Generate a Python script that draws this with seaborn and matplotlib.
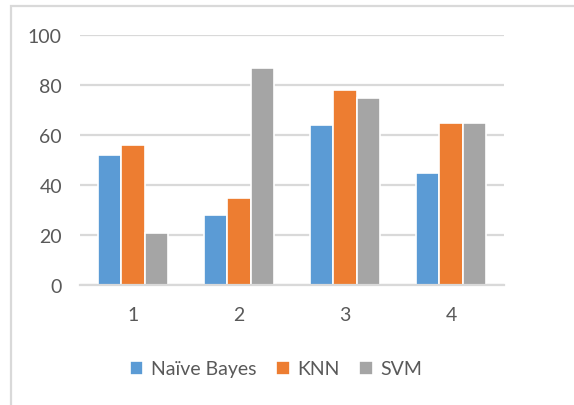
import matplotlib
matplotlib.use("Agg")
import matplotlib.pyplot as plt
from matplotlib.patches import Rectangle
import pandas as pd
import seaborn as sns

# Accuracy of three classifiers over four experiments
groups = ["1", "2", "3", "4"]
naive_bayes = [52, 28, 64, 45]
knn = [56, 35, 78, 65]
svm = [21, 87, 75, 65]
series_names = ["Naïve Bayes", "KNN", "SVM"]
colors = ["#5B9BD5", "#ED7D31", "#A5A5A5"]
y_ticks = [0, 20, 40, 60, 80, 100]

df = pd.DataFrame({
    "group": groups * 3,
    "value": naive_bayes + knn + svm,
    "model": [series_names[0]] * 4 + [series_names[1]] * 4 + [series_names[2]] * 4,
})

sns.set_theme(style="white")
plt.rcParams["font.family"] = ["Lato", "DejaVu Sans"]
text_color = "#595959"
grid_color = "#D9D9D9"

fig = plt.figure(figsize=(5.74, 4.06), dpi=100)
ax = fig.add_axes([80 / 574, 1 - 286 / 406, 424 / 574, 250 / 406])

sns.barplot(data=df, x="group", y="value", hue="model", hue_order=series_names,
            palette=colors, width=0.66, saturation=1, edgecolor="white",
            linewidth=1.2, ax=ax, legend=True)

ax.set_ylim(0, 100)
ax.set_yticks(y_ticks)
ax.set_xlim(-0.5, 3.5)
ax.set_xlabel("")
ax.set_ylabel("")
ax.yaxis.grid(True, color=grid_color, linewidth=1.6)
ax.set_axisbelow(True)
for side in ["top", "right", "left"]:
    ax.spines[side].set_visible(False)
ax.spines["bottom"].set_color(grid_color)
ax.spines["bottom"].set_linewidth(1.6)
ax.tick_params(axis="both", length=0, labelsize=14, colors=text_color)
ax.tick_params(axis="x", pad=15)
ax.tick_params(axis="y", pad=13)

handles, labels = ax.get_legend_handles_labels()
ax.get_legend().remove()
fig.legend(handles, labels, loc="center", bbox_to_anchor=(276 / 574, 1 - 370 / 406),
           ncol=3, frameon=False, fontsize=14, labelcolor=text_color,
           handlelength=0.7, handleheight=0.7, handletextpad=0.4,
           columnspacing=1.0, borderpad=0)

# outer chart frame
fig.patches.append(Rectangle((11 / 574, -0.1), 1.2, 1 - 7 / 406 + 0.1,
                             transform=fig.transFigure, fill=False,
                             edgecolor=grid_color, linewidth=1.6))

fig.savefig("out.png", dpi=100, facecolor="white")
